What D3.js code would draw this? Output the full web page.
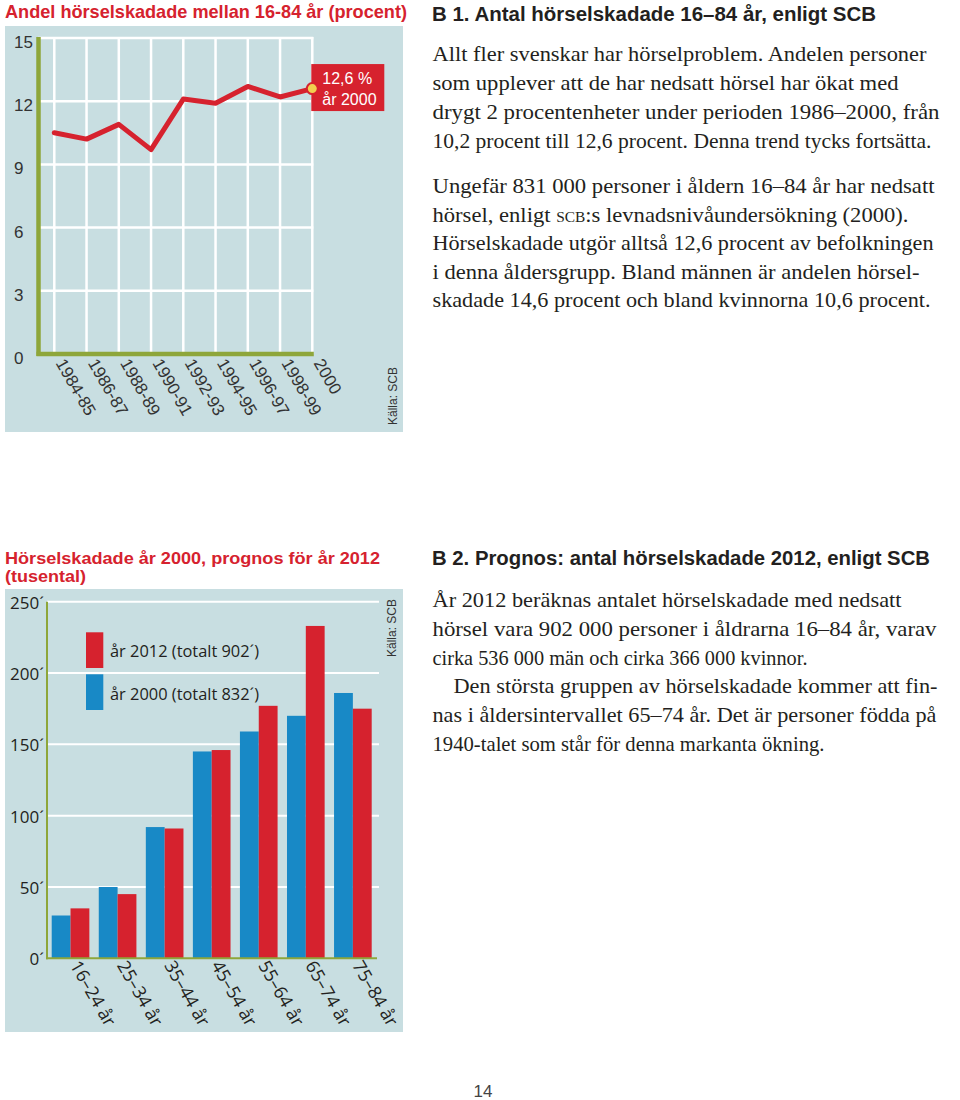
<!DOCTYPE html>
<html><head><meta charset="utf-8">
<script src="https://cdn.jsdelivr.net/npm/d3@7"></script>
<style>
html,body{margin:0;padding:0;background:#fff;}
svg{display:block;}
</style></head>
<body>
<svg id="page" width="960" height="1100"></svg>
<script>
// ---------- DATA ----------
const periods = ["1984-85","1986-87","1988-89","1990-91","1992-93","1994-95","1996-97","1998-99","2000"];
const percentValues = [10.5, 10.2, 10.9, 9.7, 12.1, 11.9, 12.7, 12.2, 12.6];
const percentTicks = [0, 3, 6, 9, 12, 15];

const ageGroups = ["16–24 år","25–34 år","35–44 år","45–54 år","55–64 år","65–74 år","75–84 år"];
const values2000 = [30, 50, 92, 145, 159, 170, 186];
const values2012 = [35, 45, 91, 146, 177, 233, 175];
const countTicks = [0, 50, 100, 150, 200, 250];
const seriesNames = ["år 2012 (totalt 902´)", "år 2000 (totalt 832´)"];

const title1 = "Andel hörselskadade mellan 16-84 år (procent)";
const title2 = ["Hörselskadade år 2000, prognos för år 2012", "(tusental)"];
const callout = ["12,6 %", "år 2000"];
const source = "Källa: SCB";

const heading1 = "B 1. Antal hörselskadade 16–84 år, enligt SCB";
const para1 = [
  "Allt fler svenskar har hörselproblem. Andelen personer",
  "som upplever att de har nedsatt hörsel har ökat med",
  "drygt 2 procentenheter under perioden 1986–2000, från",
  "10,2 procent till 12,6 procent. Denna trend tycks fortsätta."
];
const para2 = [
  "Ungefär 831 000 personer i åldern 16–84 år har nedsatt",
  "hörsel, enligt |scb|:s levnadsnivåundersökning (2000).",
  "Hörselskadade utgör alltså 12,6 procent av befolkningen",
  "i denna åldersgrupp. Bland männen är andelen hörsel-",
  "skadade 14,6 procent och bland kvinnorna 10,6 procent."
];
const heading2 = "B 2. Prognos: antal hörselskadade 2012, enligt SCB";
const para3 = [
  "År 2012 beräknas antalet hörselskadade med nedsatt",
  "hörsel vara 902 000 personer i åldrarna 16–84 år, varav",
  "cirka 536 000 män och cirka 366 000 kvinnor.",
  "Den största gruppen av hörselskadade kommer att fin-",
  "nas i åldersintervallet 65–74 år. Det är personer födda på",
  "1940-talet som står för denna markanta ökning."
];
const pageNumber = "14";

// ---------- STYLE ----------
const RED = "#d6222e", BLUE = "#1889c6", BG = "#c8dee1", GREEN = "#8ea63a";
const SANS = "'Liberation Sans', Arial, sans-serif";
const SERIF = "'Liberation Serif', 'Times New Roman', serif";
const HUM = "'Open Sans', 'Noto Sans', sans-serif";
const INK = "#231f20";

const svg = d3.select("#page");

// ================= TOP CHART =================
svg.append("text").attr("x", 5).attr("y", 18)
  .attr("font-family", SANS).attr("font-weight", "bold").attr("font-size", 18.5)
  .attr("fill", RED).attr("textLength", 402).attr("lengthAdjust", "spacingAndGlyphs")
  .text(title1);

svg.append("rect").attr("x", 5).attr("y", 26).attr("width", 398).attr("height", 406).attr("fill", BG);

const x1 = d3.scalePoint().domain(periods).range([54.3, 312.3]);
const y1 = d3.scaleLinear().domain([0, 15]).range([354, 38]);

const g1 = svg.append("g");
g1.selectAll("line.hg").data(percentTicks.filter(d => d > 0)).join("line")
  .attr("x1", 38).attr("x2", x1("2000") + 1).attr("y1", d => y1(d)).attr("y2", d => y1(d))
  .attr("stroke", "#fff").attr("stroke-width", 2.5);
g1.selectAll("line.vg").data(periods).join("line")
  .attr("x1", d => x1(d)).attr("x2", d => x1(d)).attr("y1", y1(15) - 1).attr("y2", y1(0))
  .attr("stroke", "#fff").attr("stroke-width", 2.5);
g1.append("line").attr("x1", 38.5).attr("x2", 38.5).attr("y1", y1(15) - 1).attr("y2", y1(0) + 2)
  .attr("stroke", GREEN).attr("stroke-width", 4.5);
g1.append("line").attr("x1", 36.5).attr("x2", x1("2000") + 1.5).attr("y1", y1(0)).attr("y2", y1(0))
  .attr("stroke", GREEN).attr("stroke-width", 4.5);

g1.selectAll("text.yt").data(percentTicks).join("text")
  .attr("x", 14).attr("y", d => y1(d) + 10)
  .attr("font-family", SANS).attr("font-size", 17).attr("fill", "#333")
  .text(d => d);

g1.selectAll("text.xt").data(periods).join("text")
  .attr("transform", d => `translate(${x1(d) + 1},${y1(0) + 9}) rotate(60)`)
  .attr("font-family", SANS).attr("font-size", 17).attr("fill", "#333")
  .text(d => d);

g1.append("path").datum(percentValues)
  .attr("d", d3.line().x((d, i) => x1(periods[i])).y(d => y1(d)))
  .attr("fill", "none").attr("stroke", RED).attr("stroke-width", 5)
  .attr("stroke-linejoin", "round").attr("stroke-linecap", "round");

const lastX = x1(periods[periods.length - 1]), lastY = y1(percentValues[percentValues.length - 1]);
g1.append("rect").attr("x", lastX - 1).attr("y", lastY - 24.5).attr("width", 73).attr("height", 47).attr("fill", RED);
g1.append("circle").attr("cx", lastX).attr("cy", lastY).attr("r", 5.5)
  .attr("fill", "#f2cf4f").attr("stroke", RED).attr("stroke-width", 2);
g1.selectAll("text.co").data(callout).join("text")
  .attr("x", lastX + 10).attr("y", (d, i) => lastY - 5 + i * 21.5)
  .attr("font-family", SANS).attr("font-size", 16).attr("fill", "#fff")
  .text(d => d);

g1.append("text").attr("transform", "translate(397,425) rotate(-90)")
  .attr("font-family", SANS).attr("font-size", 12).attr("fill", "#333").text(source);

// ================= BOTTOM CHART =================
svg.selectAll("text.t2").data(title2).join("text")
  .attr("x", 5).attr("y", (d, i) => 564 + i * 18)
  .attr("font-family", SANS).attr("font-weight", "bold").attr("font-size", 17)
  .attr("fill", RED)
  .attr("textLength", (d, i) => i === 0 ? 375 : 81).attr("lengthAdjust", "spacingAndGlyphs")
  .text(d => d);

svg.append("rect").attr("x", 5).attr("y", 589).attr("width", 398).attr("height", 443).attr("fill", BG);

const x2 = d3.scaleBand().domain(ageGroups).range([47, 376.4]).paddingInner(0.2).paddingOuter(0.1);
const xs = d3.scaleBand().domain(["2000", "2012"]).range([0, x2.bandwidth()]);
const y2 = d3.scaleLinear().domain([0, 250]).range([958.3, 601.7]);

const g2 = svg.append("g");
g2.selectAll("line.hg").data(countTicks.filter(d => d > 0)).join("line")
  .attr("x1", 47).attr("x2", 379).attr("y1", d => y2(d)).attr("y2", d => y2(d))
  .attr("stroke", "#fff").attr("stroke-width", 2);

const groups = g2.selectAll("g.grp").data(ageGroups).join("g")
  .attr("transform", d => `translate(${x2(d)},0)`);
groups.append("rect")
  .attr("x", xs("2000")).attr("width", xs.bandwidth())
  .attr("y", (d, i) => y2(values2000[i])).attr("height", (d, i) => y2(0) - y2(values2000[i]))
  .attr("fill", BLUE);
groups.append("rect")
  .attr("x", xs("2012")).attr("width", xs.bandwidth())
  .attr("y", (d, i) => y2(values2012[i])).attr("height", (d, i) => y2(0) - y2(values2012[i]))
  .attr("fill", RED);

g2.append("line").attr("x1", 47).attr("x2", 47).attr("y1", y2(250)).attr("y2", y2(0) + 1)
  .attr("stroke", GREEN).attr("stroke-width", 2);
g2.append("line").attr("x1", 46).attr("x2", 377).attr("y1", y2(0)).attr("y2", y2(0))
  .attr("stroke", GREEN).attr("stroke-width", 2);

g2.selectAll("text.yt").data(countTicks).join("text")
  .attr("x", 44).attr("y", d => y2(d) + 7).attr("text-anchor", "end")
  .attr("font-family", HUM).attr("font-size", 17).attr("fill", INK)
  .text(d => d + "´");

g2.selectAll("text.xt").data(ageGroups).join("text")
  .attr("transform", d => `translate(${x2(d) + x2.bandwidth() / 2 - 1},${y2(0) + 7}) rotate(60)`)
  .attr("font-family", HUM).attr("font-size", 18).attr("fill", INK)
  .text(d => d);

const legColors = [RED, BLUE];
g2.selectAll("rect.leg").data(seriesNames).join("rect")
  .attr("x", 86).attr("y", (d, i) => 632.3 + i * 42).attr("width", 17.3).attr("height", 35.7)
  .attr("fill", (d, i) => legColors[i]);
g2.selectAll("text.leg").data(seriesNames).join("text")
  .attr("x", 110).attr("y", (d, i) => 657 + i * 42.5)
  .attr("font-family", HUM).attr("font-size", 17).attr("fill", INK)
  .attr("textLength", 149).attr("lengthAdjust", "spacingAndGlyphs")
  .text(d => d);

g2.append("text").attr("transform", "translate(396,657) rotate(-90)")
  .attr("font-family", SANS).attr("font-size", 12).attr("fill", "#333").text(source);

// ================= TEXT COLUMN =================
function heading(txt, y, w) {
  svg.append("text").attr("x", 432).attr("y", y)
    .attr("font-family", SANS).attr("font-weight", "bold").attr("font-size", 20)
    .attr("fill", INK).attr("textLength", w).attr("lengthAdjust", "spacingAndGlyphs")
    .text(txt);
}
function para(lines, y0, lh, widths, indents) {
  lines.forEach((ln, i) => {
    const ind = indents ? indents[i] : 0;
    const t = svg.append("text").attr("x", 432.5 + ind).attr("y", y0 + i * lh)
      .attr("font-family", SERIF).attr("font-size", 22).attr("fill", INK)
      .attr("textLength", widths[i]).attr("lengthAdjust", "spacingAndGlyphs");
    ln.split("|").forEach((part, k) => {
      const ts = t.append("tspan").text(part);
      if (k % 2 === 1) ts.style("font-variant", "small-caps");
    });
  });
}
heading(heading1, 21, 444);
para(para1, 60.5, 29, [494, 466, 507, 499]);
para(para2, 193, 28.6, [502, 476, 501, 487, 498]);
heading(heading2, 565, 498);
para(para3, 607, 28.8, [469, 504, 375, 484, 504, 392], [0, 0, 0, 21, 0, 0]);

svg.append("text").attr("x", 483).attr("y", 1097).attr("text-anchor", "middle")
  .attr("font-family", SANS).attr("font-size", 17).attr("fill", "#444").text(pageNumber);
</script>
</body></html>
